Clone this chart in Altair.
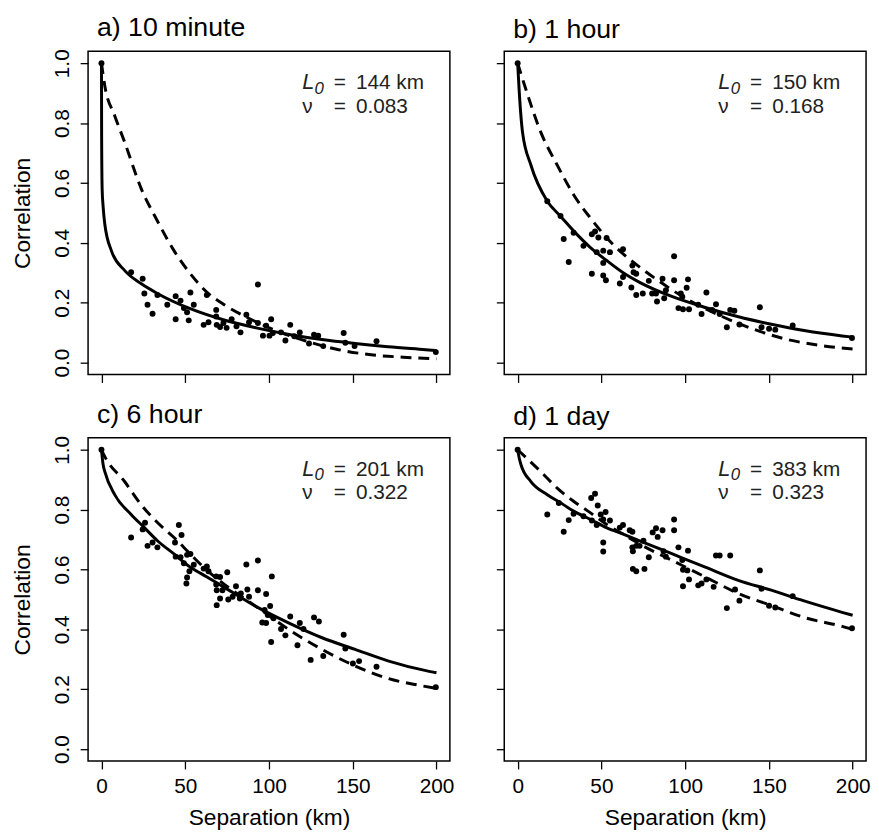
import altair as alt
import pandas as pd

FONT = "Liberation Sans"

# ---------------- data ----------------
# panel a) 10 minute
a_pts_d = [0, 17.7, 24.6, 25.6, 27.5, 30.5, 33.4, 39.3, 44.3, 44.3, 47.2, 49.2, 51.1, 53.1, 52.1, 55.1,
           62.9, 61, 63.9, 68.5, 68.5, 68.8, 70.8, 72.8, 74.7, 77.7, 80.6, 83, 86.5, 88.1, 93.4, 93.4,
           96.4, 98.3, 100.3, 101.3, 102.3, 107.2, 109.8, 112.7, 115.1, 118.4, 123.9, 126.9, 129.4,
           132.4, 144.6, 145.6, 151.1, 164.2, 199.6]
a_pts_r = [1.0, 0.302, 0.280, 0.231, 0.193, 0.163, 0.226, 0.193, 0.222, 0.145, 0.207, 0.182, 0.168, 0.234,
           0.141, 0.193, 0.226, 0.126, 0.135, 0.176, 0.154, 0.126, 0.119, 0.132, 0.116, 0.145, 0.121,
           0.101, 0.160, 0.135, 0.261, 0.132, 0.090, 0.123, 0.090, 0.145, 0.099, 0.101, 0.074, 0.126,
           0.088, 0.101, 0.064, 0.093, 0.090, 0.055, 0.099, 0.066, 0.055, 0.071, 0.035]
a_sol_d = [0, 0.1, 0.4, 1, 2, 5.9, 13.8, 23.6, 33.4, 53, 72.7, 92.4, 112, 131.6, 151.4, 171, 193.5, 200]
a_sol_r = [1.0, 0.75, 0.58, 0.52, 0.462, 0.374, 0.308, 0.264, 0.231, 0.180, 0.143, 0.116, 0.094, 0.077,
           0.064, 0.053, 0.043, 0.040]
a_dsh_d = [0, 2, 7.9, 13.8, 23.6, 33.4, 43.3, 53, 63, 72.8, 86.5, 102, 122, 141.6, 161, 180, 200]
a_dsh_r = [1.0, 0.924, 0.825, 0.737, 0.583, 0.473, 0.374, 0.297, 0.235, 0.195, 0.152, 0.112, 0.072,
           0.043, 0.026, 0.018, 0.013]

# panel b) 1 hour
b_pts_d = [0, 17.7, 25.6, 27.5, 30.5, 33.4, 39.3, 44.3, 46.2, 48.2, 53.1, 44.3, 47.2, 51.1, 51.1, 51.1,
           52.7, 55.1, 61, 62.9, 62.9, 68.5, 69.2, 67.9, 70.8, 70.8, 74.7, 78.3, 80.3, 82.6, 83.2, 86.5,
           87.5, 88.5, 93.4, 93.4, 97.4, 98.3, 96, 98.7, 102.3, 101.7, 100.9, 107.8, 109.8, 112.7, 116.1,
           118.4, 120.6, 126.9, 129.4, 124.9, 132.4, 144.6, 145.6, 150.1, 153.8, 164.2, 199.6]
b_pts_r = [1.0, 0.539, 0.490, 0.413, 0.336, 0.434, 0.390, 0.429, 0.438, 0.418, 0.416, 0.297, 0.369, 0.374,
           0.333, 0.291, 0.275, 0.369, 0.264, 0.379, 0.286, 0.324, 0.302, 0.251, 0.297, 0.226, 0.231,
           0.273, 0.231, 0.231, 0.204, 0.280, 0.215, 0.242, 0.355, 0.275, 0.231, 0.220, 0.182, 0.178,
           0.178, 0.278, 0.250, 0.193, 0.162, 0.234, 0.176, 0.195, 0.162, 0.176, 0.173, 0.118, 0.127,
           0.185, 0.118, 0.113, 0.110, 0.124, 0.082]
b_sol_d = [0, 1, 2.9, 7.9, 17.7, 25.6, 33.4, 43.3, 53.1, 63, 72.8, 92.4, 112, 131.8, 151.4, 171, 193.7, 200]
b_sol_r = [1.0, 0.90, 0.77, 0.66, 0.539, 0.489, 0.440, 0.385, 0.341, 0.300, 0.268, 0.220, 0.184, 0.153,
           0.128, 0.107, 0.089, 0.085]
b_dsh_d = [0, 4.9, 13.8, 23.6, 33.4, 43.3, 53, 63, 72.8, 86.5, 102, 122, 141.6, 161, 180, 200]
b_dsh_r = [1.0, 0.913, 0.770, 0.660, 0.561, 0.484, 0.418, 0.363, 0.319, 0.264, 0.209, 0.154, 0.110,
           0.077, 0.058, 0.045]

# panel c) 6 hour
c_pts_d = [0, 17.7, 24.6, 26, 27.5, 30.5, 33.4, 43.9, 46.2, 47.8, 44.3, 47.2, 49.2, 51.1, 53.1, 52.5,
           51.1, 50.7, 55.1, 61, 62.9, 63.9, 68.5, 70.8, 68.5, 68.8, 70.8, 68.8, 72.2, 75.1, 75.7, 80.3,
           78.3, 82.6, 83.2, 86.5, 87.1, 88.1, 93.4, 93.4, 98.3, 101.7, 100.7, 97.4, 99.3, 96, 98.3,
           102.7, 101.3, 107.2, 109.8, 112.7, 118.4, 120.6, 117, 126.9, 129.8, 124.9, 132.4, 144.6,
           145.6, 150.1, 153.8, 164.2, 199.6]
c_pts_r = [1.0, 0.707, 0.734, 0.756, 0.679, 0.690, 0.674, 0.690, 0.749, 0.715, 0.643, 0.641, 0.621,
           0.649, 0.652, 0.594, 0.573, 0.553, 0.616, 0.603, 0.610, 0.594, 0.577, 0.575, 0.550, 0.531,
           0.503, 0.481, 0.531, 0.591, 0.500, 0.544, 0.509, 0.503, 0.520, 0.617, 0.533, 0.509, 0.630,
           0.531, 0.518, 0.577, 0.478, 0.465, 0.448, 0.423, 0.421, 0.437, 0.358, 0.401, 0.380, 0.443,
           0.421, 0.401, 0.347, 0.440, 0.426, 0.298, 0.311, 0.382, 0.336, 0.286, 0.294, 0.275, 0.207]
c_sol_d = [0, 1, 2, 7.9, 17.7, 25.6, 33.4, 43.3, 53, 63, 72.8, 92.4, 112, 131.7, 151.4, 171, 193.7, 200]
c_sol_r = [1.0, 0.95, 0.927, 0.850, 0.784, 0.740, 0.696, 0.652, 0.608, 0.575, 0.542, 0.476, 0.421,
           0.372, 0.333, 0.295, 0.262, 0.255]
c_dsh_d = [0, 2, 13.8, 23.6, 33.4, 43.3, 53, 63, 72.8, 92.4, 112, 131.7, 151.4, 171, 188.8, 200]
c_dsh_r = [1.0, 0.977, 0.894, 0.817, 0.757, 0.707, 0.652, 0.597, 0.553, 0.476, 0.399, 0.333, 0.278,
           0.236, 0.214, 0.203]

# panel d) 1 day
d_pts_d = [0, 17.7, 24.6, 27.5, 30.5, 33.4, 39.3, 43.9, 46.2, 47.8, 44.3, 47.2, 49.6, 52.5, 51.1, 55.1,
           51.1, 51.1, 61, 62.9, 66.9, 68.5, 68.5, 68.8, 70.8, 75.1, 72.8, 68.8, 70.8, 75.7, 78.3, 80.6,
           82.6, 83.6, 86.5, 87.1, 88.5, 93.4, 93.4, 96, 101.7, 98.3, 98.7, 101.3, 102.3, 98.7, 107.8,
           109.8, 112.7, 117, 118.4, 120.6, 126.9, 129.8, 132.4, 124.9, 144.6, 145.6, 150.1, 153.8,
           164.2, 199.6]
d_pts_r = [1.0, 0.784, 0.822, 0.726, 0.765, 0.786, 0.778, 0.839, 0.853, 0.814, 0.764, 0.749, 0.784,
           0.792, 0.767, 0.764, 0.690, 0.660, 0.740, 0.749, 0.731, 0.726, 0.674, 0.661, 0.679, 0.696,
           0.679, 0.602, 0.594, 0.602, 0.641, 0.724, 0.738, 0.709, 0.731, 0.661, 0.643, 0.767, 0.731,
           0.674, 0.663, 0.632, 0.599, 0.597, 0.567, 0.544, 0.547, 0.553, 0.567, 0.542, 0.647, 0.647,
           0.647, 0.533, 0.496, 0.471, 0.597, 0.536, 0.479, 0.473, 0.511, 0.404]
d_sol_d = [0, 1, 2, 7.9, 17.7, 25.6, 33.4, 43.3, 53, 63, 72.8, 92.4, 112, 131.7, 151.4, 171, 193.7, 200]
d_sol_r = [1.0, 0.971, 0.950, 0.894, 0.850, 0.823, 0.795, 0.768, 0.740, 0.718, 0.696, 0.652, 0.608,
           0.564, 0.531, 0.495, 0.457, 0.447]
d_dsh_d = [0, 13.8, 23.6, 33.4, 43.3, 53, 63, 72.8, 92.4, 112, 131.7, 151.4, 171, 193.7, 200]
d_dsh_r = [1.0, 0.927, 0.872, 0.828, 0.790, 0.751, 0.718, 0.685, 0.630, 0.575, 0.520, 0.480, 0.440,
           0.410, 0.400]

titles = ["a) 10 minute", "b) 1 hour", "c) 6 hour", "d) 1 day"]
L0_text = ["144 km", "150 km", "201 km", "383 km"]
nu_text = ["0.083", "0.168", "0.322", "0.323"]
x_ticks = [0, 50, 100, 150, 200]
y_ticks = [0.0, 0.2, 0.4, 0.6, 0.8, 1.0]

W, H = 366, 327
TICK = 21
TITLE = 23


def panel(i, pd_, pr_, sd, sr, dd, dr, left, bottom):
    xs = alt.Scale(domain=[-8, 208], nice=False, zero=False)
    ys = alt.Scale(domain=[-0.04, 1.04], nice=False, zero=False)
    xax = alt.Axis(values=x_ticks, labels=bottom, title="Separation (km)" if bottom else None,
                   grid=False, domain=False, tickSize=8, tickColor="black", tickWidth=1.3,
                   labelFont=FONT, labelFontSize=TICK, labelColor="black", labelPadding=7,
                   titleFont=FONT, titleFontSize=TITLE, titleFontWeight="normal", titleColor="black",
                   titlePadding=10, format="d")
    yax = alt.Axis(values=y_ticks, labels=left, title="Correlation" if left else None,
                   grid=False, domain=False, tickSize=8, tickColor="black", tickWidth=1.3,
                   labelFont=FONT, labelFontSize=TICK, labelColor="black", labelAngle=270,
                   labelAlign="center", labelBaseline="bottom", labelPadding=8, format=".1f",
                   titleFont=FONT, titleFontSize=TITLE, titleFontWeight="normal", titleColor="black",
                   titlePadding=17)
    pts = pd.DataFrame({"d": pd_, "r": pr_})
    sol = pd.DataFrame({"d": sd, "r": sr})
    dsh = pd.DataFrame({"d": dd, "r": dr})
    X = alt.X("d:Q", scale=xs, axis=xax)
    Y = alt.Y("r:Q", scale=ys, axis=yax)
    p = alt.Chart(pts).mark_circle(size=36, color="black", opacity=1).encode(x=X, y=Y)
    s = alt.Chart(sol).mark_line(color="black", strokeWidth=3, interpolate="monotone").encode(
        x=alt.X("d:Q", scale=xs), y=alt.Y("r:Q", scale=ys))
    ds = alt.Chart(dsh).mark_line(color="black", strokeWidth=3, strokeDash=[11, 7],
                                  interpolate="monotone").encode(
        x=alt.X("d:Q", scale=xs), y=alt.Y("r:Q", scale=ys))
    one = pd.DataFrame({"k": [0]})

    def txt(t, x, y, size=21, style="normal"):
        return alt.Chart(one).mark_text(text=t, font=FONT, fontSize=size, fontStyle=style,
                                        align="left", baseline="alphabetic", color="#222222").encode(
            x=alt.value(x), y=alt.value(y))

    ann = [txt("L", 216.6, 38.5, 22, "italic"), txt("0", 229, 43, 17, "italic"),
           txt("=", 248.6, 38.5), txt(L0_text[i], 271, 38.5),
           txt("ν", 216.6, 62.3), txt("=", 248.6, 62.3), txt(nu_text[i], 271, 62.3)]
    return alt.layer(p, s, ds, *ann).properties(
        width=W, height=H,
        title=alt.TitleParams(titles[i], anchor="start", font=FONT, fontSize=27, fontWeight="normal",
                              color="black", baseline="alphabetic", offset=13, dx=9, dy=27,
                              frame="group"))


pa = panel(0, a_pts_d, a_pts_r, a_sol_d, a_sol_r, a_dsh_d, a_dsh_r, True, False)
pb = panel(1, b_pts_d, b_pts_r, b_sol_d, b_sol_r, b_dsh_d, b_dsh_r, False, False)
pc = panel(2, c_pts_d, c_pts_r, c_sol_d, c_sol_r, c_dsh_d, c_dsh_r, True, True)
pdd = panel(3, d_pts_d, d_pts_r, d_sol_d, d_sol_r, d_dsh_d, d_dsh_r, False, True)

chart = alt.concat(pa, pb, pc, pdd, columns=2, spacing=alt.RowColnumber(row=64, column=55),
                   bounds="flush").configure_view(stroke="black", strokeWidth=1.5).properties(
    padding={"left": 3, "top": 0, "right": 0, "bottom": 0}, background="white")

chart.save("out.html", embed_options={"renderer": "svg", "actions": False})
